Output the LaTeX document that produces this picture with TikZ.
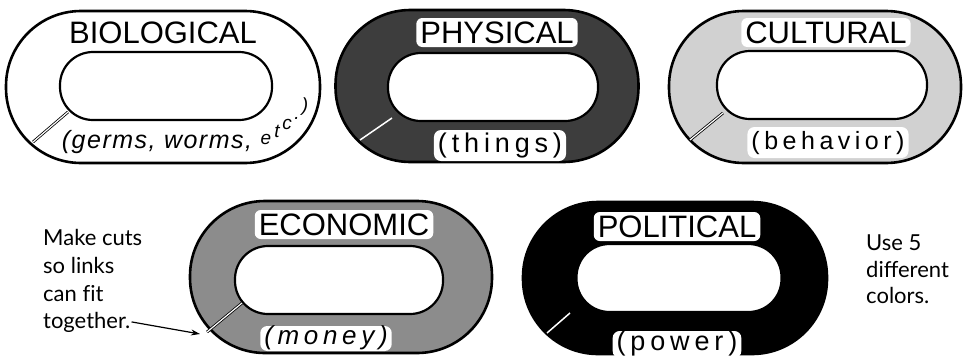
\documentclass[tikz,border=0pt]{standalone}
\usepackage{fontspec}
\setmainfont{Lato}
\newfontfamily\hand{Liberation Sans}
\newfontfamily\handsp[LetterSpace=18]{Liberation Sans}
\newfontfamily\handlit[LetterSpace=6]{Liberation Sans}
\usetikzlibrary{arrows.meta}
\begin{document}
\begin{tikzpicture}[x=1pt,y=-1pt,
  outerring/.style={draw=black, line width=2.6pt, rounded corners=75pt, minimum height=152pt, inner sep=0pt},
  hole/.style={draw=black, fill=white, line width=2.2pt, rounded corners=33pt, minimum height=68pt, inner sep=0pt},
  caps/.style={font=\hand\fontsize{31}{31}\selectfont, anchor=base, inner sep=0pt},
  capbox/.style={caps, fill=white, rounded corners=6pt, inner xsep=4pt, inner ysep=2pt, text height=23pt, text depth=2pt},
  lower/.style={font=\handsp\fontsize{27}{27}\selectfont, anchor=base, inner sep=0pt},
  lowbox/.style={lower, fill=white, rounded corners=7pt, inner xsep=4pt, inner ysep=2pt, text height=20pt, text depth=7pt},
  etcletter/.style={font=\hand\itshape\fontsize{19}{19}\selectfont, inner sep=0pt},
  cutdouble/.style={draw=black, double=white, double distance=1.2pt, line width=0.8pt},
  cutwhite/.style={draw=white, line width=1.5pt},
  note/.style={font=\fontsize{22}{22}\selectfont, anchor=base west, inner sep=1pt},
]
\useasboundingbox (0,0) rectangle (964,357);

% ---------- BIOLOGICAL ----------
\node[outerring, fill=white, minimum width=314pt] (bioRing) at (163,87) {};
\node[hole, minimum width=212pt] (bioHole) at (166,86) {};
\node[caps] (bioName) at (163,43) {BIOLOGICAL};
\node[lower, font=\handlit\itshape\fontsize{25}{25}\selectfont] (bioSub) at (157,148) {(germs, worms,};
\node[etcletter] (etcE) at (266,139) {e};
\node[etcletter] (etcT) at (277,131) {t};
\node[etcletter] (etcC) at (287,124) {c};
\node[etcletter] (etcDot) at (297,118) {.};
\node[etcletter] (etcPar) at (305,107) {)};
\coordinate (bioCutA) at (68,112);
\coordinate (bioCutB) at (33,142);
\draw[cutdouble] (bioCutA) -- (bioCutB);

% ---------- PHYSICAL ----------
\node[outerring, fill=black!76, minimum width=303pt] (phyRing) at (487,86) {};
\node[hole, minimum width=210pt] (phyHole) at (493,87) {};
\node[capbox] (phyName) at (497,43) {PHYSICAL};
\node[lowbox] (phySub) at (500,152) {(things)};
\coordinate (phyCutA) at (392,118);
\coordinate (phyCutB) at (360,140);
\draw[cutwhite] (phyCutA) -- (phyCutB);

% ---------- CULTURAL ----------
\node[outerring, fill=black!18, minimum width=292pt] (culRing) at (815,87) {};
\node[hole, minimum width=210pt] (culHole) at (822,85) {};
\node[capbox] (culName) at (826,43) {CULTURAL};
\node[lowbox, font=\handsp\fontsize{25}{25}\selectfont] (culSub) at (828,149) {(behavior)};
\coordinate (culCutA) at (723,113);
\coordinate (culCutB) at (690,140);
\draw[cutdouble] (culCutA) -- (culCutB);

% ---------- ECONOMIC ----------
\node[outerring, fill=black!45, minimum width=302pt] (ecoRing) at (341,277) {};
\node[hole, minimum width=208pt] (ecoHole) at (339,280) {};
\node[capbox] (ecoName) at (344,235) {ECONOMIC};
\node[lowbox, font=\handsp\itshape\fontsize{26}{26}\selectfont, text height=16pt, text depth=5pt] (ecoSub) at (326,344) {(money)};
\coordinate (ecoCutA) at (242,303);
\coordinate (ecoCutB) at (207,332);
\draw[cutdouble] (ecoCutA) -- (ecoCutB);

% ---------- POLITICAL ----------
\node[outerring, fill=black, minimum width=304pt] (polRing) at (675,278) {};
\node[hole, minimum width=205pt] (polHole) at (679,278) {};
\node[capbox] (polName) at (677,237) {POLITICAL};
\node[lowbox, text height=17pt, text depth=6pt] (polSub) at (677,350) {(power)};
\coordinate (polCutA) at (570,313);
\coordinate (polCutB) at (547,333);
\draw[cutwhite] (polCutA) -- (polCutB);

% ---------- notes ----------
\node[note] (noteA) at (42,245) {Make cuts};
\node[note] (noteB) at (42,273) {so links};
\node[note] (noteC) at (42,301) {can f\/it};
\node[note] (noteD) at (42,328) {together.};
\coordinate (arrowTip) at (200,334);
\draw[line width=1.2pt, -{Stealth[length=9pt,width=6pt]}] (noteD.east) -- (arrowTip);

\node[note] (useA) at (865,250) {Use 5};
\node[note] (useB) at (865,277) {different};
\node[note] (useC) at (865,303) {colors.};
\end{tikzpicture}
\end{document}
